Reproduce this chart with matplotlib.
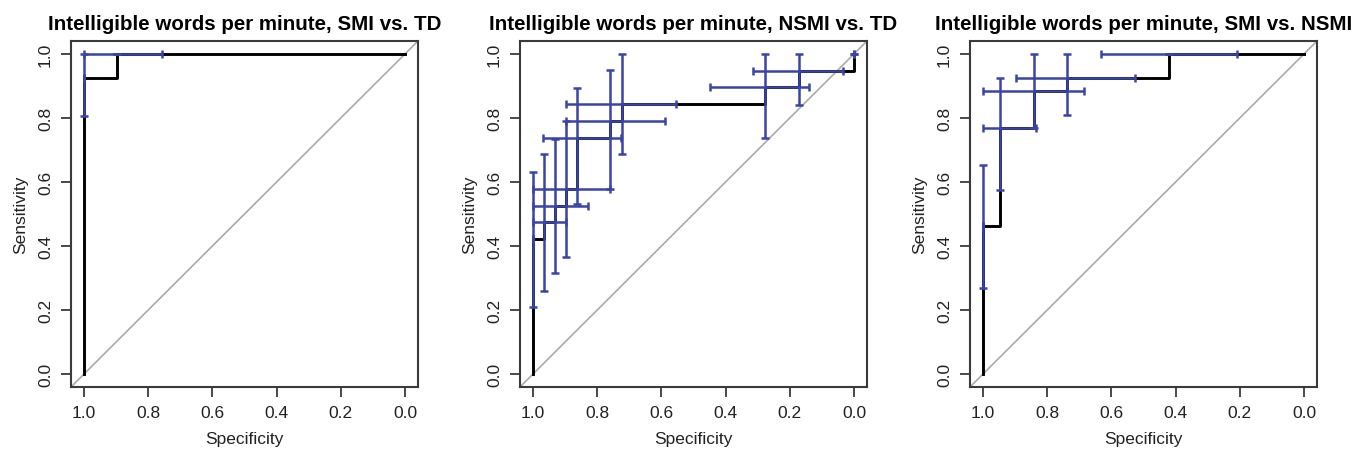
import numpy as np
import matplotlib
matplotlib.use("Agg")
import matplotlib.pyplot as plt

plt.rcParams['font.family'] = ['Liberation Sans', 'DejaVu Sans']

titles = ["Intelligible words per minute, SMI vs. TD",
          "Intelligible words per minute, NSMI vs. TD",
          "Intelligible words per minute, SMI vs. NSMI"]

# ROC curve vertices (specificity, sensitivity)
smi_td_sp = [1.0, 1.0, 0.897, 0.897, 0.0]
smi_td_se = [0.0, 0.923, 0.923, 1.0, 1.0]

nsmi_td_sp = [1.0, 1.0, 0.966, 0.966, 0.931, 0.931, 0.897, 0.897, 0.862, 0.862,
              0.759, 0.759, 0.724, 0.724, 0.276, 0.276, 0.172, 0.172, 0.0, 0.0]
nsmi_td_se = [0.0, 0.421, 0.421, 0.474, 0.474, 0.526, 0.526, 0.579, 0.579, 0.737,
              0.737, 0.789, 0.789, 0.842, 0.842, 0.895, 0.895, 0.947, 0.947, 1.0]

smi_nsmi_sp = [1.0, 1.0, 0.947, 0.947, 0.842, 0.842, 0.737, 0.737, 0.421, 0.421, 0.0]
smi_nsmi_se = [0.0, 0.462, 0.462, 0.769, 0.769, 0.885, 0.885, 0.923, 0.923, 1.0, 1.0]

# confidence crosses at thresholds: centre, specificity CI, sensitivity CI
smi_td_ci_sp = [1.0, 0.897]
smi_td_ci_se = [0.923, 1.0]
smi_td_ci_sp_lo = [1.0, 0.757]
smi_td_ci_sp_hi = [1.0, 1.0]
smi_td_ci_se_lo = [0.807, 1.0]
smi_td_ci_se_hi = [1.0, 1.0]

nsmi_td_ci_sp = [1.0, 0.966, 0.931, 0.897, 0.862, 0.759, 0.724, 0.276, 0.172, 0.0]
nsmi_td_ci_se = [0.421, 0.474, 0.526, 0.579, 0.737, 0.789, 0.842, 0.895, 0.947, 1.0]
nsmi_td_ci_sp_lo = [1.0, 0.896, 0.828, 0.759, 0.726, 0.588, 0.553, 0.14, 0.036, 0.0]
nsmi_td_ci_sp_hi = [1.0, 1.0, 1.0, 1.0, 0.968, 0.896, 0.896, 0.45, 0.315, 0.0]
nsmi_td_ci_se_lo = [0.21, 0.261, 0.315, 0.367, 0.531, 0.577, 0.686, 0.737, 0.841, 1.0]
nsmi_td_ci_se_hi = [0.632, 0.686, 0.733, 0.79, 0.893, 0.948, 1.0, 1.0, 1.0, 1.0]

smi_nsmi_ci_sp = [1.0, 0.947, 0.842, 0.737, 0.421]
smi_nsmi_ci_se = [0.462, 0.769, 0.885, 0.923, 1.0]
smi_nsmi_ci_sp_lo = [1.0, 0.834, 0.686, 0.527, 0.21]
smi_nsmi_ci_sp_hi = [1.0, 1.0, 1.0, 0.896, 0.632]
smi_nsmi_ci_se_lo = [0.268, 0.576, 0.767, 0.809, 1.0]
smi_nsmi_ci_se_hi = [0.653, 0.923, 1.0, 1.0, 1.0]

ticks = [1.0, 0.8, 0.6, 0.4, 0.2, 0.0]
tick_labels = ["1.0", "0.8", "0.6", "0.4", "0.2", "0.0"]

panels = [
    (smi_td_sp, smi_td_se, smi_td_ci_sp, smi_td_ci_se, smi_td_ci_sp_lo,
     smi_td_ci_sp_hi, smi_td_ci_se_lo, smi_td_ci_se_hi),
    (nsmi_td_sp, nsmi_td_se, nsmi_td_ci_sp, nsmi_td_ci_se, nsmi_td_ci_sp_lo,
     nsmi_td_ci_sp_hi, nsmi_td_ci_se_lo, nsmi_td_ci_se_hi),
    (smi_nsmi_sp, smi_nsmi_se, smi_nsmi_ci_sp, smi_nsmi_ci_se, smi_nsmi_ci_sp_lo,
     smi_nsmi_ci_sp_hi, smi_nsmi_ci_se_lo, smi_nsmi_ci_se_hi),
]

W, H = 1353, 460
fig = plt.figure(figsize=(W / 100, H / 100), dpi=100)
lefts = [71, 520, 970]
box_w, box_top, box_bot = 347, 42, 388

blue = '#3a44a6'
edge = '#3a3a3a'

for i, (sp, se, csp, cse, splo, sphi, selo, sehi) in enumerate(panels):
    ax = fig.add_axes([lefts[i] / W, 1 - box_bot / H, box_w / W, (box_bot - box_top) / H])
    ax.set_xlim(1.04, -0.04)
    ax.set_ylim(-0.04, 1.04)
    ax.axline((0, 1), (1, 0), color='#aaaaaa', lw=1.2, zorder=1)
    ax.plot(sp, se, color='black', lw=2.1, zorder=2)
    csp = np.array(csp); cse = np.array(cse)
    xerr = [csp - np.array(splo), np.array(sphi) - csp]
    yerr = [cse - np.array(selo), np.array(sehi) - cse]
    ax.errorbar(csp, cse, xerr=xerr, yerr=yerr, fmt='none', ecolor=blue,
                elinewidth=1.8, capsize=3, capthick=1.8, zorder=3)
    ax.set_xticks(ticks)
    ax.set_xticklabels(tick_labels)
    ax.set_yticks(ticks)
    ax.set_yticklabels(tick_labels, rotation=90, va='center')
    ax.tick_params(direction='out', length=7, width=1.3, color=edge,
                   labelsize=12.5, labelcolor='#222222', pad=6)
    for s in ax.spines.values():
        s.set_linewidth(1.5)
        s.set_color(edge)
    ax.set_xlabel("Specificity", fontsize=12.5, labelpad=8, color='#222222')
    ax.set_ylabel("Sensitivity", fontsize=12.5, labelpad=7, color='#222222')
    ax.set_title(titles[i], fontsize=14.8, fontweight='bold', pad=9)

fig.savefig("out.png", dpi=100)
